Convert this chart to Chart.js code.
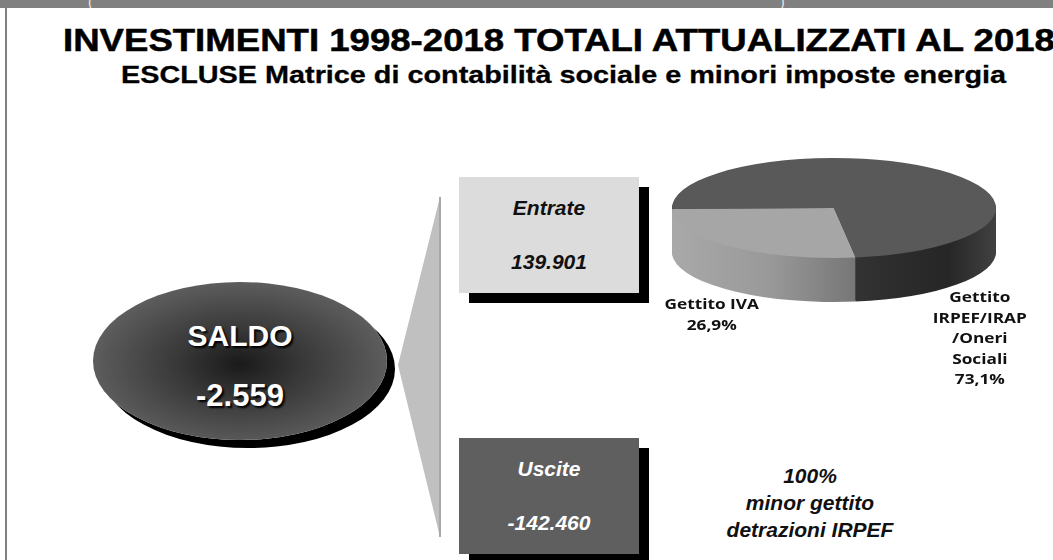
<!DOCTYPE html>
<html lang="it">
<head>
<meta charset="UTF-8">
<title>Investimenti 1998-2018</title>
<script src="https://cdn.jsdelivr.net/npm/chart.js"></script>
<style>
    body {
        margin: 0;
        width: 1053px;
        height: 560px;
        overflow: hidden;
        background: #fff;
        font-family: "Liberation Sans", Arial, sans-serif;
        position: relative;
    }
    .abs { position: absolute; }
    #topStrip { left: 0; top: 0; width: 1053px; height: 8px; background: #808080; overflow: hidden; }
    #topStrip span { position: absolute; top: -6px; color: #e8e8e8; font-size: 14px; }
    #leftLine { left: 5px; top: 8px; width: 2px; height: 552px; background: #808080; }
    #title {
        left: 63px; top: 23px; font-size: 31px; font-weight: bold; white-space: nowrap; color: #000;
        transform: scaleX(1.18); transform-origin: 0 0; -webkit-text-stroke: 0.5px #000;
    }
    #subtitle {
        left: 121px; top: 61px; font-size: 24px; font-weight: bold; white-space: nowrap; color: #000;
        transform: scaleX(1.2); transform-origin: 0 0; -webkit-text-stroke: 0.3px #000;
    }
    #fan {
        left: 380px; top: 190px; width: 62px; height: 360px;
        background: #c0c0c0;
        clip-path: polygon(18px 175px, 60px 7px, 60px 347px);
    }
    #fanEdge { left: 439px; top: 197px; width: 2px; height: 340px; background: #a8a8a8; }
    #saldo {
        left: 93px; top: 282px; width: 294px; height: 158px; border-radius: 50%;
        background: radial-gradient(ellipse at 50% 52%, #1a1a1a 0%, #383838 30%, #5c5c5c 70%, #616161 100%);
        box-shadow: 8px 8px 0 #000;
        color: #fff; text-align: center; font-weight: bold;
        text-shadow: 2px 2px 2px #000;
    }
    #saldo .lbl { position: absolute; left: 0; right: 0; top: 37px; font-size: 30px; }
    #saldo .val { position: absolute; left: 0; right: 0; top: 96px; font-size: 31px; }
    .box {
        width: 180px; height: 116px; box-shadow: 10px 10px 0 #000;
        text-align: center; font-weight: bold; font-style: italic; font-size: 21px;
    }
    .box .t1 { position: absolute; left: 0; right: 0; top: 19px; }
    .box .t2 { position: absolute; left: 0; right: 0; top: 73px; }
    #boxIn { left: 459px; top: 177px; background: #dcdcdc; color: #111; }
    #boxOut { left: 459px; top: 438px; background: #5f5f5f; color: #fff; }
    #note {
        left: 700px; top: 462px; width: 220px; text-align: center;
        font-weight: bold; font-style: italic; font-size: 21px; line-height: 27px; color: #111;
    }
    #pieWrap { left: 640px; top: 0; width: 413px; height: 420px; }
</style>
</head>
<body>
<div id="topStrip" class="abs"><span style="left:88px">(</span><span style="left:780px">)</span></div>
<div id="leftLine" class="abs"></div>
<div id="title" class="abs">INVESTIMENTI 1998-2018 TOTALI ATTUALIZZATI AL 2018</div>
<div id="subtitle" class="abs">ESCLUSE Matrice di contabilità sociale e minori imposte energia</div>

<div id="fan" class="abs"></div>
<div id="fanEdge" class="abs"></div>
<div id="saldo" class="abs"><div class="lbl" id="saldoLbl"></div><div class="val" id="saldoVal"></div></div>

<div id="boxIn" class="abs box"><div class="t1"></div><div class="t2"></div></div>
<div id="boxOut" class="abs box"><div class="t1"></div><div class="t2"></div></div>

<div id="note" class="abs">100%<br>minor gettito<br>detrazioni IRPEF</div>

<div id="pieWrap" class="abs"><canvas id="pie"></canvas></div>

<script>
    // summary figures (milioni)
    const saldoLabel = 'SALDO';
    const saldoValue = '-2.559';
    const boxLabels = ['Entrate', 'Uscite'];
    const boxValues = ['139.901', '-142.460'];

    // pie: composizione entrate
    const categories = ['Gettito IVA', 'Gettito IRPEF/IRAP/Oneri Sociali'];
    const shares = [26.9, 73.1];
    const labelLines = [['Gettito IVA'], ['Gettito', 'IRPEF/IRAP', '/Oneri', 'Sociali']];

    document.getElementById('saldoLbl').textContent = saldoLabel;
    document.getElementById('saldoVal').textContent = saldoValue;
    ['boxIn', 'boxOut'].forEach((id, i) => {
        const el = document.getElementById(id);
        el.querySelector('.t1').textContent = boxLabels[i];
        el.querySelector('.t2').textContent = boxValues[i];
    });

    const topColors = ['#a6a6a6', '#595959'];
    const squash = 50 / 162;   // vertical flattening of the disc
    const depth = 44;          // thickness of the disc in px

    const pie3d = {
        id: 'pie3d',
        beforeDatasetsDraw(chart) {
            const arcs = chart.getDatasetMeta(0).data;
            const cx = arcs[0].x, cy = arcs[0].y, r = arcs[0].outerRadius;
            const ctx = chart.ctx;

            const g0 = ctx.createLinearGradient(-r, 0, r, 0);
            g0.addColorStop(0, '#a9a9a9');
            g0.addColorStop(0.3, '#999999');
            g0.addColorStop(0.57, '#767676');
            const g1 = ctx.createLinearGradient(-r, 0, r, 0);
            g1.addColorStop(0.55, '#333333');
            g1.addColorStop(0.85, '#262626');
            g1.addColorStop(1, '#414141');
            const sides = [g0, g1];

            for (let d = depth; d >= 1; d--) {
                arcs.forEach((arc, i) => {
                    ctx.save();
                    ctx.translate(cx, cy + d);
                    ctx.scale(1, squash);
                    ctx.beginPath();
                    ctx.moveTo(0, 0);
                    ctx.arc(0, 0, r, arc.startAngle, arc.endAngle);
                    ctx.closePath();
                    ctx.fillStyle = sides[i];
                    ctx.fill();
                    ctx.restore();
                });
            }
            ctx.save();
            ctx.translate(cx, cy);
            ctx.scale(1, squash);
            ctx.translate(-cx, -cy);
        },
        afterDatasetsDraw(chart) {
            const ctx = chart.ctx;
            ctx.restore();
            const arcs = chart.getDatasetMeta(0).data;
            const cx = arcs[0].x, cy = arcs[0].y, r = arcs[0].outerRadius;
            const anchors = [
                { x: cx - 0.755 * r, y: cy + 97 },
                { x: cx + 0.90 * r, y: cy + 90 }
            ];
            ctx.font = 'bold 15px "Open Sans", sans-serif';
            ctx.fillStyle = '#111';
            ctx.textAlign = 'center';
            ctx.textBaseline = 'middle';
            shares.forEach((v, i) => {
                const lines = labelLines[i].concat([v.toFixed(1).replace('.', ',') + '%']);
                lines.forEach((ln, j) => {
                    ctx.save();
                    ctx.translate(anchors[i].x, anchors[i].y + j * 20.5);
                    ctx.scale(1.15, 1);
                    ctx.fillText(ln, 0, 0);
                    ctx.restore();
                });
            });
        }
    };

    new Chart(document.getElementById('pie'), {
        type: 'pie',
        data: {
            labels: categories,
            datasets: [{
                data: shares,
                backgroundColor: topColors,
                borderWidth: 0
            }]
        },
        plugins: [pie3d],
        options: {
            responsive: true,
            maintainAspectRatio: false,
            animation: false,
            rotation: 172.3,
            layout: { padding: { left: 32, top: 46, right: 57, bottom: 50 } },
            plugins: {
                legend: { display: false },
                tooltip: { enabled: false }
            }
        }
    });
</script>
</body>
</html>
